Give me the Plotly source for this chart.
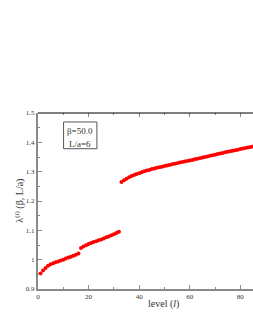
import plotly.graph_objects as go

# Segment data (level index, eigenvalue)
levels_seg1 = list(range(1, 17))
lam_seg1 = [0.953, 0.963, 0.972, 0.979, 0.984, 0.988, 0.991, 0.994,
            0.997, 1.000, 1.004, 1.007, 1.010, 1.013, 1.017, 1.021]

levels_seg2 = list(range(17, 33))
lam_seg2 = [1.040, 1.045, 1.049, 1.053, 1.057, 1.060, 1.063, 1.066,
            1.069, 1.072, 1.076, 1.079, 1.083, 1.087, 1.091, 1.095]

levels_seg3 = list(range(33, 87))
lam_seg3 = [1.265, 1.271, 1.276, 1.281, 1.285, 1.289, 1.292, 1.295, 1.298, 1.301,
            1.304, 1.306, 1.309, 1.311, 1.313, 1.315, 1.317, 1.319, 1.321, 1.323,
            1.325, 1.327, 1.329, 1.331, 1.333, 1.335, 1.336, 1.338, 1.340, 1.342,
            1.344, 1.346, 1.348, 1.350, 1.352, 1.354, 1.356, 1.358, 1.360, 1.362,
            1.364, 1.366, 1.368, 1.370, 1.371, 1.373, 1.375, 1.377, 1.379, 1.381,
            1.382, 1.384, 1.386, 1.388]

x_ticks = [0, 20, 40, 60, 80]
y_ticks = [0.9, 1.0, 1.1, 1.2, 1.3, 1.4, 1.5]
y_tick_text = ["0.9", "1", "1.1", "1.2", "1.3", "1.4", "1.5"]

X_RANGE = [0, 85]
Y_RANGE = [0.9, 1.5]

FONT = "Liberation Serif"
AXIS_GRAY = "#8a8a8a"
TEXT = "#333333"

fig = go.Figure()
fig.add_trace(go.Scatter(
    x=levels_seg1 + levels_seg2 + levels_seg3,
    y=lam_seg1 + lam_seg2 + lam_seg3,
    mode="markers",
    marker=dict(color="#ff0000", size=4, line=dict(width=0)),
    showlegend=False, hoverinfo="skip",
))
# invisible trace to anchor the top axis
fig.add_trace(go.Scatter(x=[None], y=[None], xaxis="x2", showlegend=False,
                         hoverinfo="skip"))

fig.update_layout(
    width=253, height=327,
    margin=dict(l=38, r=0, t=113, b=38),
    paper_bgcolor="white", plot_bgcolor="white",
    font=dict(family=FONT, color=TEXT, size=7),
    xaxis=dict(
        range=X_RANGE, tickvals=x_ticks, ticks="inside", ticklen=4,
        tickcolor=AXIS_GRAY, tickwidth=1,
        minor=dict(ticks="inside", ticklen=2, dtick=10, tickcolor=AXIS_GRAY),
        showline=True, linecolor=AXIS_GRAY, linewidth=2,
        showgrid=False, zeroline=False,
        tickfont=dict(family=FONT, size=7, color=TEXT),
    ),
    xaxis2=dict(
        range=X_RANGE, overlaying="x", side="top", anchor="y",
        tickvals=x_ticks, ticks="inside", ticklen=4, tickcolor=AXIS_GRAY,
        minor=dict(ticks="inside", ticklen=2, dtick=10, tickcolor=AXIS_GRAY),
        showticklabels=False, showline=False, showgrid=False, zeroline=False,
    ),
    yaxis=dict(
        range=Y_RANGE, tickvals=y_ticks, ticktext=y_tick_text,
        ticks="inside", ticklen=4, tickcolor=AXIS_GRAY, tickwidth=1,
        minor=dict(ticks="inside", ticklen=2, dtick=0.05, tickcolor=AXIS_GRAY),
        showline=True, linecolor=AXIS_GRAY, linewidth=2,
        showgrid=False, zeroline=False,
        tickfont=dict(family=FONT, size=7, color=TEXT),
    ),
    shapes=[
        dict(type="line", xref="paper", yref="paper", x0=0, x1=1, y0=1, y1=1,
             line=dict(color="black", width=1)),
        dict(type="rect", xref="paper", yref="paper",
             x0=0.119, x1=0.274, y0=0.797, y1=0.949,
             line=dict(color="#555", width=1), fillcolor="white"),
    ],
    annotations=[
        dict(text="β=50.0", xref="paper", yref="paper", x=0.196, y=0.898,
             xanchor="center", yanchor="middle",
             showarrow=False, font=dict(family=FONT, size=9, color=TEXT)),
        dict(text="L/a=6", xref="paper", yref="paper", x=0.196, y=0.826,
             xanchor="center", yanchor="middle",
             showarrow=False, font=dict(family=FONT, size=9, color=TEXT)),
        dict(text="level (<i>l</i>)", xref="paper", yref="paper", x=0.583, y=-0.084,
             showarrow=False, xanchor="center", yanchor="middle",
             font=dict(family=FONT, size=10, color=TEXT)),
        dict(text="λ<sup>(<i>l</i>)</sup> (β, L/a)", xref="paper", yref="paper",
             x=-0.09, y=0.5, textangle=-90, showarrow=False,
             xanchor="center", yanchor="middle",
             font=dict(family=FONT, size=10, color=TEXT)),
    ],
)

fig.write_html("out.html",
               config={"displayModeBar": False, "staticPlot": True},
               post_script="document.body.style.margin='0';document.body.style.overflow='hidden';")
